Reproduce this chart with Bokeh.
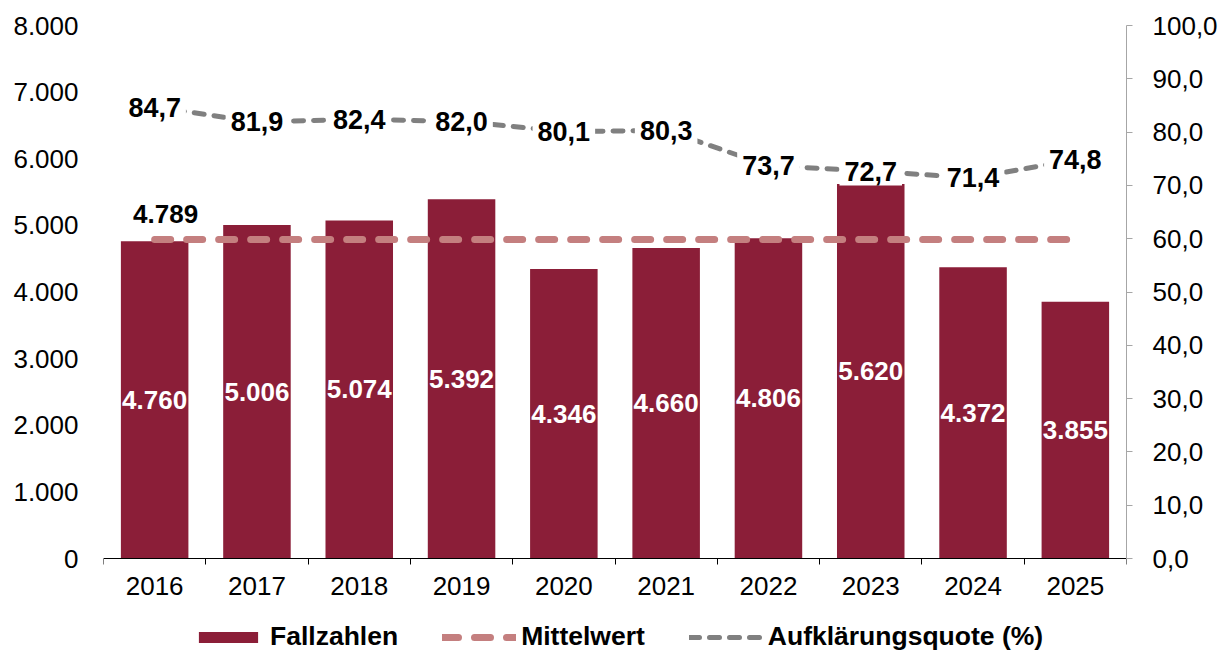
from bokeh.plotting import figure
from bokeh.models import (Range1d, LinearAxis, FixedTicker, ColumnDataSource,
                          Legend, LegendItem)
from bokeh.core.properties import value
from bokeh.embed import file_html
from bokeh.resources import INLINE

years = ["2016", "2017", "2018", "2019", "2020", "2021", "2022", "2023", "2024", "2025"]
fallzahlen = [4760, 5006, 5074, 5392, 4346, 4660, 4806, 5620, 4372, 3855]
fall_labels = ["4.760", "5.006", "5.074", "5.392", "4.346", "4.660", "4.806", "5.620", "4.372", "3.855"]
mittelwert = 4789
mittel_label = "4.789"
quote = [84.7, 81.9, 82.4, 82.0, 80.1, 80.3, 73.7, 72.7, 71.4, 74.8]
quote_labels = ["84,7", "81,9", "82,4", "82,0", "80,1", "80,3", "73,7", "72,7", "71,4", "74,8"]
left_ticks = [0, 1000, 2000, 3000, 4000, 5000, 6000, 7000, 8000]
left_tick_labels = ["0", "1.000", "2.000", "3.000", "4.000", "5.000", "6.000", "7.000", "8.000"]
right_ticks = [0, 10, 20, 30, 40, 50, 60, 70, 80, 90, 100]
right_tick_labels = ["0,0", "10,0", "20,0", "30,0", "40,0", "50,0", "60,0", "70,0", "80,0", "90,0", "100,0"]

FONT = "Liberation Sans"
BAR = "#8B1E38"
MITTEL = "#C47F7F"
GRAY = "#808080"

n = len(years)
xc = [i + 0.5 for i in range(n)]

# layout: plot area 533px tall for the value range, plus 101px below zero for axis labels + legend
PLOT_H, BELOW_H = 533, 101
LMAX, RMAX = 8000, 100
l_start = -LMAX * BELOW_H / PLOT_H
r_start = -RMAX * BELOW_H / PLOT_H

src = ColumnDataSource(dict(x=xc, y=fallzahlen, ymid=[v / 2 for v in fallzahlen],
                            lab=fall_labels, q=quote, qlab=quote_labels,
                            m=[mittelwert] * n))

p = figure(frame_width=1023, frame_height=PLOT_H + BELOW_H, output_backend="svg",
           toolbar_location=None,
           x_range=Range1d(0, n), y_range=Range1d(l_start, LMAX),
           min_border_left=103, min_border_right=89, min_border_top=25, min_border_bottom=0,
           y_axis_location=None, x_axis_location=None)
p.outline_line_color = None
p.xgrid.visible = False
p.ygrid.visible = False
p.extra_y_ranges = {"right": Range1d(r_start, RMAX)}

# x axis drawn at value 0
xaxis = LinearAxis(ticker=FixedTicker(ticks=xc, minor_ticks=list(range(n + 1))),
                   major_label_overrides={x: y for x, y in zip(xc, years)},
                   fixed_location=0)
xaxis.major_tick_out = 0
xaxis.major_tick_in = 0
xaxis.minor_tick_out = 6
xaxis.minor_tick_in = 0
xaxis.minor_tick_line_color = "black"
xaxis.axis_line_color = "black"
xaxis.major_label_text_font = FONT
xaxis.major_label_text_font_size = "26px"
xaxis.major_label_text_color = "black"
xaxis.major_label_standoff = 12
p.add_layout(xaxis, "below")

laxis = LinearAxis(ticker=FixedTicker(ticks=left_ticks, minor_ticks=[]),
                   major_label_overrides={t: l for t, l in zip(left_ticks, left_tick_labels)},
                   bounds=(0, LMAX))
laxis.axis_line_color = None
laxis.major_tick_line_color = None
laxis.major_label_text_font = FONT
laxis.major_label_text_font_size = "26px"
laxis.major_label_text_color = "black"
laxis.major_label_standoff = 19
p.add_layout(laxis, "left")

raxis = LinearAxis(y_range_name="right",
                   ticker=FixedTicker(ticks=right_ticks, minor_ticks=[]),
                   major_label_overrides={t: l for t, l in zip(right_ticks, right_tick_labels)},
                   bounds=(0, RMAX))
raxis.axis_line_color = "#A6A6A6"
raxis.major_tick_line_color = "#A6A6A6"
raxis.major_tick_out = 6
raxis.major_tick_in = 0
raxis.major_label_text_font = FONT
raxis.major_label_text_font_size = "26px"
raxis.major_label_text_color = "black"
raxis.major_label_standoff = 20
p.add_layout(raxis, "right")

bars = p.vbar(x="x", top="y", bottom=0, width=0.66, source=src, fill_color=BAR, line_color=None)
mline = p.line(x="x", y="m", source=src, line_color=MITTEL, line_width=7,
               line_dash="16 16", line_cap="round")
qline = p.line(x="x", y="q", source=src, y_range_name="right", line_color=GRAY,
               line_width=5, line_dash="10 10", line_cap="round")

p.text(x="x", y="ymid", text="lab", source=src, text_color="white",
       text_font=value(FONT), text_font_size="26px", text_font_style="bold",
       text_align="center", text_baseline="middle")
p.text(x="x", y="q", text="qlab", source=src, y_range_name="right", text_color="black",
       text_font=value(FONT), text_font_size="27px", text_font_style="bold",
       text_align="center", text_baseline="middle",
       background_fill_color="white", padding=5)
p.text(x=[xc[0]], y=[mittelwert], text=[mittel_label], x_offset=11, y_offset=-25,
       text_color="black", text_font=value(FONT), text_font_size="26px",
       text_font_style="bold", text_align="center", text_baseline="middle")

legend = Legend(items=[LegendItem(label="Fallzahlen", renderers=[bars]),
                       LegendItem(label="Mittelwert", renderers=[mline]),
                       LegendItem(label="Aufklärungsquote (%)", renderers=[qline])],
                orientation="horizontal", location=(88, 7))
legend.border_line_color = None
legend.background_fill_alpha = 0
legend.padding = 0
legend.margin = 0
legend.spacing = 44
legend.glyph_width = 74
legend.glyph_height = 14
legend.label_standoff = 5
legend.label_text_font = FONT
legend.label_text_font_size = "26.5px"
legend.label_text_font_style = "bold"
legend.label_text_color = "black"
legend.label_height = 30
p.add_layout(legend, "center")

open("out.html", "w").write(file_html(p, INLINE))
